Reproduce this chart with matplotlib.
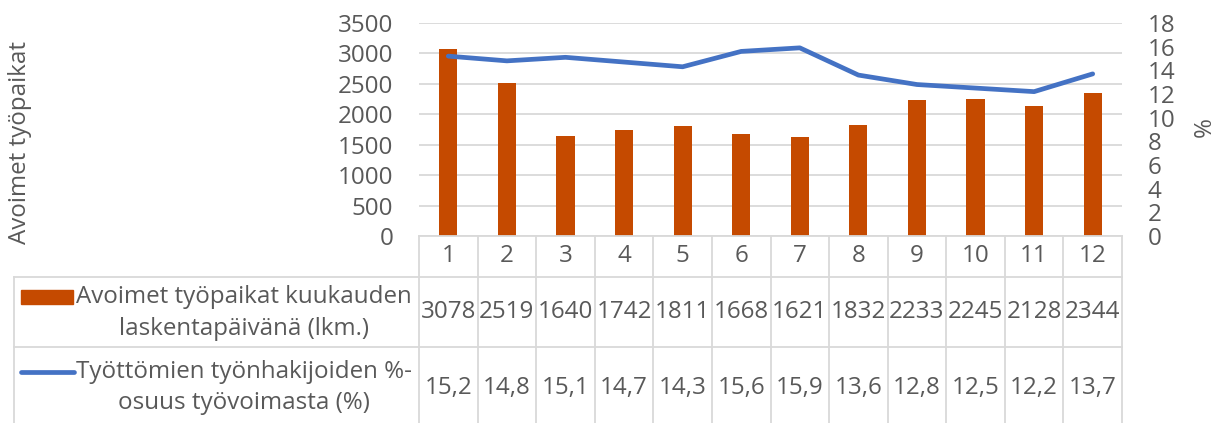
import matplotlib
matplotlib.use("Agg")
import matplotlib.pyplot as plt
from matplotlib.patches import Rectangle

plt.rcParams['font.family'] = ['Open Sans', 'DejaVu Sans']

months = ['1', '2', '3', '4', '5', '6', '7', '8', '9', '10', '11', '12']
jobs = [3078, 2519, 1640, 1742, 1811, 1668, 1621, 1832, 2233, 2245, 2128, 2344]
unemp = [15.2, 14.8, 15.1, 14.7, 14.3, 15.6, 15.9, 13.6, 12.8, 12.5, 12.2, 13.7]
jobs_label = ['Avoimet työpaikat kuukauden', 'laskentapäivänä (lkm.)']
unemp_label = ['Työttömien työnhakijoiden %-', 'osuus työvoimasta (%)']
left_title = 'Avoimet työpaikat'
right_title = '%'

W, H = 1219, 423
TXT = '#595959'
GRID = '#D9D9D9'
BAR = '#C54A00'
LINE = '#4472C4'
FS = 17.4
LW = 3.4

fig = plt.figure(figsize=(W / 100, H / 100), dpi=100)

# plot area in pixels
L, R, T, B = 419, 1122, 23, 236
ax = fig.add_axes([L / W, 1 - B / H, (R - L) / W, (B - T) / H])
x = list(range(1, len(months) + 1))
ax.bar(x, jobs, width=0.31, color=BAR, zorder=2)
ax.set_xlim(0.5, len(months) + 0.5)
ax.set_ylim(0, 3500)
ax.set_yticks(range(0, 3501, 500))
ax.yaxis.grid(True, color=GRID, linewidth=1.3, zorder=0)
ax.set_axisbelow(True)
ax.set_xticks([])
for s in ax.spines.values():
    s.set_visible(False)
ax.tick_params(axis='y', length=0, labelsize=FS, labelcolor=TXT, pad=18.5)

ax2 = ax.twinx()
ax2.plot(x, unemp, color=LINE, linewidth=LW, solid_capstyle='round', zorder=3)
ax2.set_ylim(0, 18)
ax2.set_yticks(range(0, 19, 2))
for s in ax2.spines.values():
    s.set_visible(False)
ax2.tick_params(axis='y', length=0, labelsize=FS, labelcolor=TXT, pad=18.5)

fig.text(20 / W, 1 - 143 / H, left_title, rotation=90, ha='center', va='center',
         fontsize=FS, color=TXT)
fig.text(1205 / W, 1 - 127 / H, right_title, rotation=90, ha='center', va='center',
         fontsize=FS, color=TXT)

# data table overlay in pixel coordinates
ov = fig.add_axes([0, 0, 1, 1], zorder=5)
ov.set_xlim(0, W)
ov.set_ylim(H, 0)
ov.axis('off')
ov.patch.set_alpha(0)

def px(xv):
    return ax.transData.transform((xv, 0))[0]

bounds = [px(i + 0.5) for i in range(0, len(months) + 1)]
centers = [px(i) for i in x]
lw = 1.3
TL = 14
r0, r1, r2, r3 = B, 277, 347, 423
ov.plot([bounds[0], bounds[-1]], [r0, r0], color=GRID, lw=lw)
ov.plot([TL, bounds[-1]], [r1, r1], color=GRID, lw=lw)
ov.plot([TL, bounds[-1]], [r2, r2], color=GRID, lw=lw)
ov.plot([TL, TL], [r1, r3], color=GRID, lw=lw)
for b in bounds:
    ov.plot([b, b], [r0, r3], color=GRID, lw=lw)

for c, m, j, u in zip(centers, months, jobs, unemp):
    ov.text(c, 256, m, ha='center', va='center', fontsize=FS, color=TXT)
    ov.text(c, 312, str(j), ha='center', va='center', fontsize=FS, color=TXT)
    ov.text(c, 388, f'{u:.1f}'.replace('.', ','), ha='center', va='center',
            fontsize=FS, color=TXT)

ov.add_patch(Rectangle((21, 290), 52, 14, color=BAR))
ov.text(244, 297, jobs_label[0], ha='center', va='center', fontsize=FS, color=TXT)
ov.text(244, 329, jobs_label[1], ha='center', va='center', fontsize=FS, color=TXT)
ov.plot([21, 74], [372, 372], color=LINE, lw=LW, solid_capstyle='round')
ov.text(244, 372, unemp_label[0], ha='center', va='center', fontsize=FS, color=TXT)
ov.text(244, 403, unemp_label[1], ha='center', va='center', fontsize=FS, color=TXT)

fig.savefig('out.png', dpi=100)
